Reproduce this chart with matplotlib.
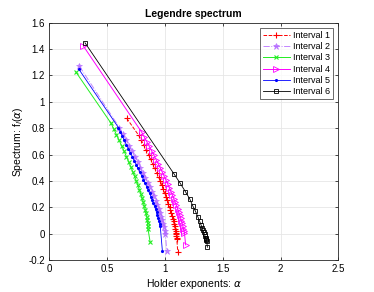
import matplotlib
matplotlib.use("Agg")
import matplotlib.pyplot as plt
from matplotlib.ticker import FuncFormatter

# values (alpha, f(alpha)) per interval
alpha1 = [0.671, 0.775, 0.797, 0.818, 0.839, 0.860, 0.878, 0.896, 0.913, 0.930, 0.946,
          0.961, 0.975, 0.988, 1.000, 1.011, 1.022, 1.032, 1.041, 1.049, 1.057, 1.064,
          1.070, 1.076, 1.081, 1.086, 1.090, 1.093, 1.096, 1.099, 1.101, 1.103, 1.104, 1.112]
f1 = [0.875, 0.745, 0.708, 0.672, 0.636, 0.600, 0.565, 0.530, 0.496, 0.462, 0.430,
      0.398, 0.367, 0.337, 0.308, 0.280, 0.253, 0.227, 0.202, 0.178, 0.155, 0.133,
      0.112, 0.092, 0.073, 0.055, 0.038, 0.022, 0.007, -0.007, -0.020, -0.032, -0.043, -0.137]

alpha2 = [0.262, 0.608, 0.636, 0.664, 0.691, 0.717, 0.742, 0.766, 0.789, 0.811, 0.832,
          0.852, 0.871, 0.889, 0.906, 0.921, 0.935, 0.948, 0.960, 0.970, 0.979, 0.987,
          0.994, 1.000, 1.005, 1.017]
f2 = [1.271, 0.804, 0.758, 0.712, 0.668, 0.624, 0.582, 0.541, 0.501, 0.462, 0.424,
      0.387, 0.351, 0.316, 0.282, 0.249, 0.217, 0.186, 0.156, 0.127, 0.099, 0.072,
      0.047, 0.023, 0.000, -0.130]

alpha3 = [0.231, 0.536, 0.560, 0.583, 0.606, 0.628, 0.649, 0.669, 0.688, 0.706, 0.723,
          0.739, 0.754, 0.768, 0.781, 0.793, 0.804, 0.814, 0.823, 0.831, 0.838, 0.844,
          0.848, 0.851, 0.853, 0.855, 0.873]
f3 = [1.228, 0.837, 0.793, 0.750, 0.707, 0.665, 0.624, 0.584, 0.545, 0.507, 0.470,
      0.434, 0.399, 0.365, 0.332, 0.300, 0.269, 0.239, 0.210, 0.182, 0.155, 0.129,
      0.104, 0.080, 0.057, 0.035, -0.062]

alpha4 = [0.297, 0.800, 0.822, 0.844, 0.865, 0.886, 0.906, 0.925, 0.944, 0.962, 0.979,
          0.995, 1.011, 1.026, 1.040, 1.053, 1.066, 1.078, 1.089, 1.100, 1.110, 1.119,
          1.128, 1.136, 1.143, 1.150, 1.156, 1.161, 1.166, 1.170, 1.180]
f4 = [1.423, 0.770, 0.734, 0.698, 0.663, 0.628, 0.594, 0.561, 0.528, 0.496, 0.465,
      0.434, 0.404, 0.375, 0.346, 0.318, 0.291, 0.264, 0.238, 0.213, 0.189, 0.165,
      0.142, 0.120, 0.098, 0.077, 0.057, 0.038, 0.020, 0.003, -0.086]

alpha5 = [0.259, 0.600, 0.617, 0.634, 0.651, 0.668, 0.686, 0.703, 0.720, 0.737, 0.754,
          0.770, 0.786, 0.801, 0.816, 0.830, 0.844, 0.857, 0.869, 0.881, 0.892, 0.902,
          0.912, 0.921, 0.929, 0.937, 0.944, 0.950, 0.956, 0.961, 0.979]
f5 = [1.246, 0.804, 0.771, 0.739, 0.707, 0.675, 0.644, 0.613, 0.583, 0.553, 0.523,
      0.494, 0.466, 0.438, 0.410, 0.383, 0.356, 0.330, 0.304, 0.279, 0.254, 0.230,
      0.206, 0.183, 0.160, 0.138, 0.116, 0.095, 0.074, 0.054, -0.130]

alpha6 = [0.311, 1.080, 1.130, 1.178, 1.216, 1.242, 1.265, 1.285, 1.300, 1.312, 1.322,
          1.330, 1.337, 1.343, 1.348, 1.352, 1.356, 1.359, 1.362, 1.368]
f6 = [1.448, 0.452, 0.386, 0.318, 0.262, 0.209, 0.169, 0.128, 0.095, 0.068, 0.045,
      0.025, 0.008, -0.007, -0.020, -0.031, -0.041, -0.050, -0.058, -0.104]

labels = ["Interval 1", "Interval 2", "Interval 3", "Interval 4", "Interval 5", "Interval 6"]

plt.rcParams['font.family'] = ['Liberation Sans', 'DejaVu Sans']

fig = plt.figure(figsize=(3.74, 2.92), dpi=100)
ax = fig.add_axes([0.131, 0.110, 0.774, 0.812])

ax.plot(alpha1, f1, '--', color='#ff0000', lw=0.7, marker='+', ms=4.5, mew=0.8, label=labels[0])
ax.plot(alpha2, f2, '-.', color='#b266ff', lw=0.7, marker='*', ms=4.5, mew=0.5, alpha=0.8, label=labels[1])
ax.plot(alpha3, f3, '-', color='#22ee22', lw=0.7, marker='x', ms=3.5, mew=0.8, label=labels[2])
ax.plot(alpha4, f4, '-', color='#ff00ff', lw=0.7, marker='>', ms=4, mew=0.6, mfc='none', label=labels[3])
ax.plot(alpha5, f5, '-', color='#0000ff', lw=0.6, marker='.', ms=2.5, label=labels[4])
ax.plot(alpha6, f6, '-', color='#000000', lw=0.6, marker='s', ms=3, mew=0.6, mfc='none', label=labels[5])

ax.set_xlim(0, 2.5)
ax.set_ylim(-0.2, 1.6)
ax.set_xticks([0, 0.5, 1, 1.5, 2, 2.5])
ax.set_yticks([-0.2, 0, 0.2, 0.4, 0.6, 0.8, 1, 1.2, 1.4, 1.6])
fmt = FuncFormatter(lambda v, p: '%g' % round(v, 2))
ax.xaxis.set_major_formatter(fmt)
ax.yaxis.set_major_formatter(fmt)
ax.tick_params(direction='in', length=2.5, width=0.5, labelsize=7, top=True, right=True, pad=3)
ax.grid(True, color='#e6e6e6', lw=0.6)
ax.set_axisbelow(True)
for s in ax.spines.values():
    s.set_linewidth(0.6)
    s.set_color('#262626')

ax.set_title("Legendre spectrum", fontsize=7.5, fontweight='bold', pad=4)
ax.set_xlabel(r"Holder exponents: $\alpha$", fontsize=7.5, labelpad=2)
ax.set_ylabel(r"Spectrum: f$_l$($\alpha$)", fontsize=7.5, labelpad=2)

leg = ax.legend(loc='upper right', fontsize=6.5, fancybox=False, edgecolor='#262626',
                handlelength=3, borderpad=0.3, labelspacing=0.25, handletextpad=0.4,
                borderaxespad=0.6)
leg.get_frame().set_linewidth(0.6)

fig.savefig("out.png", dpi=100)
